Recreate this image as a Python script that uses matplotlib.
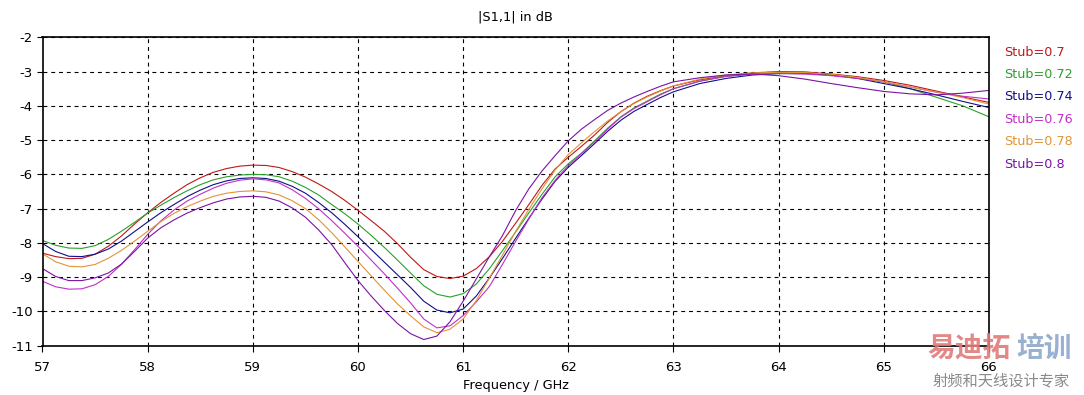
import matplotlib
matplotlib.use("Agg")
import matplotlib.pyplot as plt

freq_ghz = [57.0, 57.125, 57.25, 57.375, 57.5, 57.625, 57.75, 57.875,
            58.0, 58.125, 58.25, 58.375, 58.5, 58.625, 58.75, 58.875,
            59.0, 59.125, 59.25, 59.375, 59.5, 59.625, 59.75, 59.875,
            60.0, 60.125, 60.25, 60.375, 60.5, 60.625, 60.75, 60.875,
            61.0, 61.125, 61.25, 61.375, 61.5, 61.625, 61.75, 61.875,
            62.0, 62.125, 62.25, 62.375, 62.5, 62.625, 62.75, 62.875,
            63.0, 63.25, 63.5, 63.75, 64.0, 64.25, 64.5, 64.75,
            65.0, 65.25, 65.5, 65.75, 66.0]

s11_stub_070 = [-8.30, -8.40, -8.46, -8.45, -8.33, -8.10, -7.80, -7.45,
                -7.12, -6.82, -6.55, -6.30, -6.10, -5.94, -5.83, -5.76,
                -5.73, -5.74, -5.80, -5.92, -6.08, -6.28, -6.50, -6.76,
                -7.05, -7.35, -7.66, -8.02, -8.42, -8.78, -8.98, -9.04,
                -8.97, -8.75, -8.40, -7.95, -7.42, -6.88, -6.32, -5.84,
                -5.50, -5.18, -4.85, -4.48, -4.17, -3.92, -3.72, -3.56,
                -3.42, -3.24, -3.12, -3.04, -3.00, -3.01, -3.07, -3.15,
                -3.26, -3.40, -3.57, -3.74, -3.90]
s11_stub_072 = [-7.93, -8.07, -8.15, -8.16, -8.08, -7.90, -7.66, -7.40,
                -7.13, -6.90, -6.68, -6.48, -6.30, -6.16, -6.07, -6.02,
                -6.00, -6.01, -6.07, -6.20, -6.38, -6.60, -6.88, -7.15,
                -7.45, -7.78, -8.13, -8.50, -8.88, -9.25, -9.50, -9.58,
                -9.48, -9.20, -8.75, -8.22, -7.68, -7.12, -6.58, -6.07,
                -5.69, -5.38, -5.02, -4.65, -4.32, -4.06, -3.86, -3.66,
                -3.50, -3.28, -3.14, -3.06, -3.03, -3.04, -3.10, -3.18,
                -3.30, -3.50, -3.75, -4.00, -4.32]
s11_stub_074 = [-8.02, -8.25, -8.39, -8.40, -8.33, -8.18, -7.95, -7.67,
                -7.39, -7.12, -6.88, -6.65, -6.46, -6.30, -6.19, -6.12,
                -6.10, -6.12, -6.20, -6.35, -6.55, -6.82, -7.12, -7.46,
                -7.82, -8.19, -8.56, -8.93, -9.30, -9.70, -9.96, -10.04,
                -9.93, -9.55, -9.02, -8.45, -7.86, -7.28, -6.72, -6.20,
                -5.79, -5.45, -5.10, -4.74, -4.42, -4.16, -3.96, -3.76,
                -3.59, -3.35, -3.20, -3.10, -3.06, -3.06, -3.10, -3.20,
                -3.35, -3.50, -3.68, -3.87, -4.05]
s11_stub_076 = [-9.12, -9.28, -9.35, -9.34, -9.22, -8.98, -8.63, -8.20,
                -7.75, -7.36, -7.04, -6.78, -6.58, -6.40, -6.26, -6.17,
                -6.13, -6.16, -6.25, -6.45, -6.70, -7.00, -7.35, -7.72,
                -8.10, -8.50, -8.90, -9.32, -9.75, -10.22, -10.48, -10.42,
                -10.12, -9.72, -9.27, -8.62, -7.95, -7.30, -6.68, -6.17,
                -5.74, -5.40, -5.05, -4.68, -4.33, -4.08, -3.88, -3.68,
                -3.50, -3.28, -3.14, -3.08, -3.05, -3.07, -3.12, -3.20,
                -3.30, -3.45, -3.60, -3.72, -3.80]
s11_stub_078 = [-8.32, -8.55, -8.68, -8.70, -8.63, -8.45, -8.22, -7.95,
                -7.66, -7.38, -7.14, -6.94, -6.78, -6.64, -6.55, -6.50,
                -6.48, -6.51, -6.60, -6.77, -7.00, -7.32, -7.70, -8.12,
                -8.54, -8.96, -9.38, -9.78, -10.13, -10.45, -10.62, -10.52,
                -10.22, -9.68, -9.02, -8.35, -7.66, -7.02, -6.42, -5.87,
                -5.42, -5.08, -4.75, -4.44, -4.17, -3.93, -3.74, -3.57,
                -3.42, -3.22, -3.10, -3.04, -3.02, -3.03, -3.08, -3.17,
                -3.30, -3.45, -3.60, -3.76, -3.95]
s11_stub_080 = [-8.75, -8.98, -9.10, -9.10, -9.02, -8.88, -8.62, -8.25,
                -7.86, -7.56, -7.33, -7.13, -6.97, -6.83, -6.72, -6.66,
                -6.64, -6.67, -6.78, -6.98, -7.25, -7.62, -8.05, -8.58,
                -9.10, -9.55, -9.97, -10.35, -10.65, -10.82, -10.72, -10.30,
                -9.70, -9.05, -8.40, -7.78, -7.05, -6.42, -5.90, -5.45,
                -5.02, -4.68, -4.40, -4.13, -3.92, -3.74, -3.58, -3.43,
                -3.30, -3.18, -3.10, -3.07, -3.12, -3.22, -3.35, -3.47,
                -3.58, -3.65, -3.68, -3.63, -3.55]

series_labels = ["Stub=0.7", "Stub=0.72", "Stub=0.74", "Stub=0.76", "Stub=0.78", "Stub=0.8"]
series_values = [s11_stub_070, s11_stub_072, s11_stub_074, s11_stub_076, s11_stub_078, s11_stub_080]
series_colors = ["#c01818", "#2aa02a", "#10108a", "#c030c8", "#e09438", "#7a14a8"]

x_ticks = [57, 58, 59, 60, 61, 62, 63, 64, 65, 66]
y_ticks = [-2, -3, -4, -5, -6, -7, -8, -9, -10, -11]

W, H = 1084, 395
fig = plt.figure(figsize=(W / 100, H / 100), dpi=100)
left, right, top, bottom = 42.5, 989.0, 37.3, 345.7
ax = fig.add_axes([left / W, 1 - bottom / H, (right - left) / W, (bottom - top) / H])

for vals, col in zip(series_values, series_colors):
    ax.plot(freq_ghz, vals, color=col, lw=0.8, solid_joinstyle="round")

ax.set_xlim(57, 66)
ax.set_ylim(-11, -2)
ax.set_xticks(x_ticks)
ax.set_yticks(y_ticks)
ax.set_xticklabels([str(t) for t in x_ticks])
ax.set_yticklabels([str(t) for t in y_ticks])
ax.grid(True, color="black", linestyle=(0, (3.5, 3.5)), linewidth=0.8)
for sp in ax.spines.values():
    sp.set_color("black")
    sp.set_linewidth(1.2)
ax.tick_params(axis="x", direction="out", length=4, width=0.8, pad=7, labelsize=9.5, colors="black")
ax.tick_params(axis="y", direction="out", length=4, width=0.8, pad=3, labelsize=9.5, colors="black")
ax.set_facecolor("white")

fig.text((left + right) / 2 / W, 1 - 17 / H, "|S1,1| in dB", ha="center", va="center", fontsize=9.3)
fig.text((left + right) / 2 / W, 1 - 385 / H, "Frequency / GHz", ha="center", va="center", fontsize=9.3)

legend_y = [52, 74.5, 97, 119.5, 141.5, 164]
for lab, col, yy in zip(series_labels, series_colors, legend_y):
    fig.text(1004 / W, 1 - yy / H, lab, color=col, ha="left", va="center", fontsize=9.2)

# watermark text
cjk = ["Noto Sans CJK SC", "DejaVu Sans"]
fig.text(927 / W, 1 - 349 / H, "易迪拓", color="#e07a7a", ha="left", va="center",
         fontsize=20, fontweight="bold", family=cjk, alpha=0.9)
fig.text(1016 / W, 1 - 349 / H, "培训", color="#8ea8cc", ha="left", va="center",
         fontsize=20, fontweight="bold", family=cjk, alpha=0.9)
fig.text(1001 / W, 1 - 381 / H, "射频和天线设计专家", color="#8a8a8a", ha="center", va="center",
         fontsize=11, family=cjk)

fig.savefig("out.png", dpi=100, facecolor="white")
